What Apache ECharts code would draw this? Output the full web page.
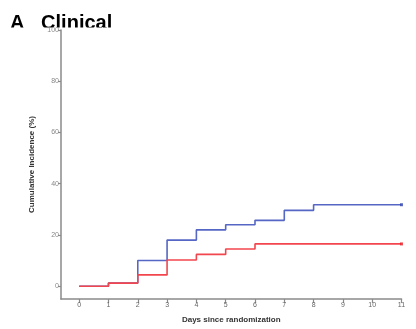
<!DOCTYPE html>
<html><head><meta charset="utf-8">
<script src="https://cdn.jsdelivr.net/npm/echarts@6/dist/echarts.min.js"></script>
<style>html,body{margin:0;padding:0;background:#fff}#c{width:416px;height:329px}</style>
</head><body><div id="c"></div>
<script>
const xTicks = [0,1,2,3,4,5,6,7,8,9,10,11];
const yTicks = [0,20,40,60,80,100];
const blueDays = [0,1,2,3,4,5,6,7,8,11];
const blueVals = [0,1.2,10,18,22,24,25.7,29.6,31.8,31.8];
const redDays = [0,1,2,3,4,5,6,11];
const redVals = [0,1.2,4.4,10.2,12.4,14.5,16.5,16.5];

const blue = '#5566c4', red = '#f2464e';
const pairs = (xs, ys) => xs.map((x, i) => [x, ys[i]]);
const last = (xs, ys) => [[xs[xs.length-1], ys[ys.length-1]]];
const font = '"Liberation Sans", Arial, sans-serif';

const chart = echarts.init(document.getElementById('c'), null, {renderer:'canvas'});
chart.setOption({
  animation:false,
  grid:{left:61, right:14.5, top:30, bottom:28, containLabel:false},
  xAxis:{type:'value', min:-0.62, max:11, z:8,
    axisLine:{onZero:false, lineStyle:{color:'#8a8a8a', width:1.5}},
    axisTick:{show:true, length:4, customValues:xTicks, lineStyle:{color:'#8a8a8a', width:1.2}},
    axisLabel:{customValues:xTicks, color:'#666', fontSize:7, margin:3, fontFamily:font},
    splitLine:{show:false},
    name:'Days since randomization', nameLocation:'middle', nameGap:17,
    nameTextStyle:{fontSize:8, fontWeight:'bold', color:'#333', fontFamily:font}
  },
  yAxis:{type:'value', min:-5, max:100, z:8,
    axisLine:{show:true, onZero:false, lineStyle:{color:'#8a8a8a', width:1.5}},
    axisTick:{show:true, length:3, customValues:yTicks, lineStyle:{color:'#8a8a8a', width:1.2}},
    axisLabel:{customValues:yTicks, color:'#888', fontSize:7, margin:2, fontFamily:font},
    splitLine:{show:false},
    name:'Cumulative Incidence (%)', nameLocation:'middle', nameGap:25, nameRotate:90,
    nameTextStyle:{fontSize:8, fontWeight:'bold', color:'#333', fontFamily:font}
  },
  graphic:[
    {type:'text', left:10, top:13, z:1, style:{text:'A   Clinical', font:'bold 20px "Liberation Sans", Arial, sans-serif', fill:'#000'}},
    {type:'rect', shape:{x:0, y:27.5, width:130, height:6}, z:3, style:{fill:'#fff'}}
  ],
  series:[
    {type:'line', step:'end', data:pairs(blueDays, blueVals), symbol:'none', z:2,
      lineStyle:{color:blue, width:1.6}},
    {type:'line', step:'end', data:pairs(redDays, redVals), symbol:'none', z:3,
      lineStyle:{color:red, width:1.6}},
    {type:'scatter', data:last(blueDays, blueVals), symbol:'rect', symbolSize:3, itemStyle:{color:'#3347b0'}, z:4},
    {type:'scatter', data:last(redDays, redVals), symbol:'rect', symbolSize:3, itemStyle:{color:'#e8202a'}, z:4}
  ]
});
</script></body></html>
